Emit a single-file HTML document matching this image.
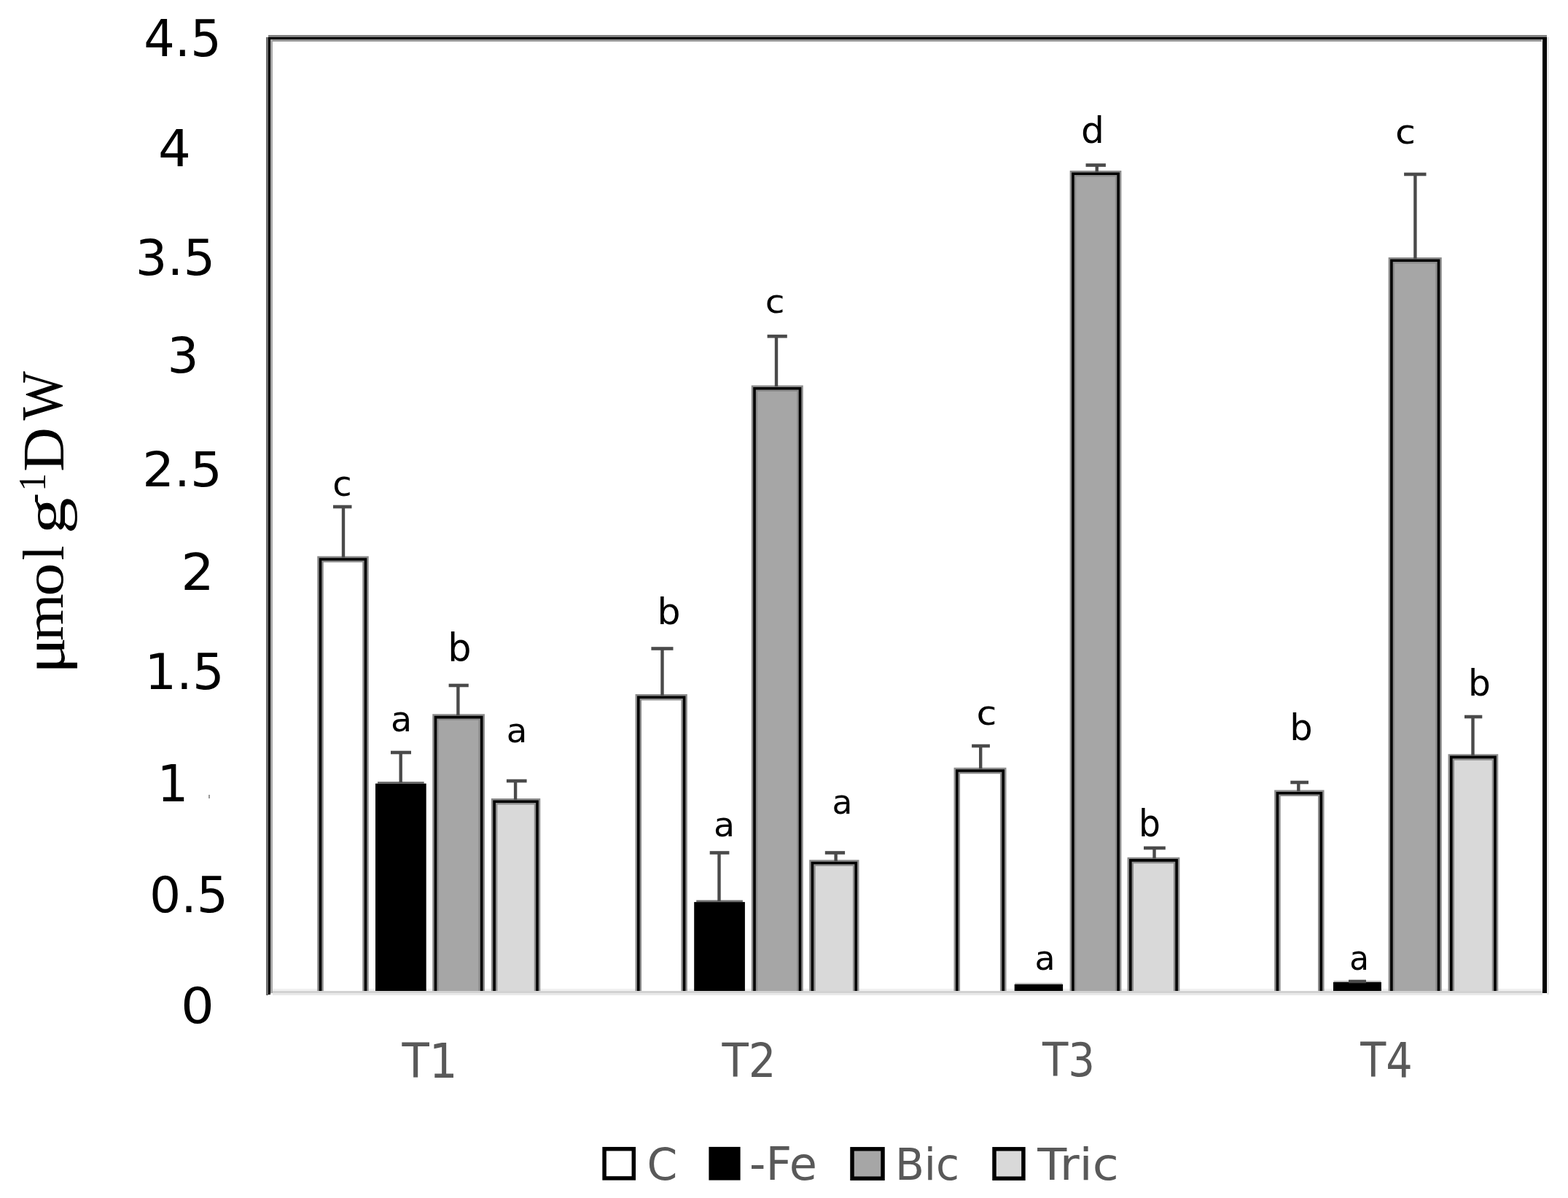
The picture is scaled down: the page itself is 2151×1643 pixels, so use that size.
<!DOCTYPE html><html><head><meta charset="utf-8"><title>Chart</title>
<style>html,body{margin:0;padding:0;background:#fff;}body{width:2151px;height:1643px;overflow:hidden;}svg{display:block;}.s{font-family:"DejaVu Sans","Liberation Sans",sans-serif;}.r{font-family:"Liberation Serif","Times New Roman",serif;}</style></head><body>
<svg width="2151" height="1643" viewBox="0 0 2151 1643">
<rect x="0" y="0" width="2151" height="1643" fill="#fff"/>
<g><rect x="374" y="1356" width="1742" height="3" fill="#f0f0f0"/><rect x="374" y="1359" width="1742" height="3" fill="#d2d2d2"/><rect x="374" y="1362" width="1742" height="3" fill="#e9e9e9"/><rect x="368" y="48" width="1754" height="3" fill="#828282"/><rect x="374" y="54" width="1741" height="3" fill="#969696"/><rect x="365" y="51" width="3" height="1314" fill="#6e6e6e"/><rect x="371" y="54" width="3" height="1308" fill="#a8a8a8"/><rect x="2122" y="51" width="3" height="1313" fill="#e6e6e6"/><rect x="368" y="51" width="3" height="1313" fill="#000"/><rect x="368" y="51" width="1754" height="3" fill="#000"/><rect x="2116" y="51" width="6" height="1311" fill="#000"/><rect x="439.5" y="767.0" width="62.0" height="593.0" fill="#ffffff"/><path d="M439.5 1360.0V767.0H501.5V1360.0" fill="none" stroke="#8c8c8c" stroke-width="8.5" stroke-linejoin="miter"/><path d="M439.5 1360.0V767.0H501.5V1360.0" fill="none" stroke="#000" stroke-width="3.6" stroke-linejoin="miter"/><line x1="471.0" y1="695.0" x2="471.0" y2="764.5" stroke="#4a4a4a" stroke-width="4.4"/><line x1="457.0" y1="695.0" x2="482.5" y2="695.0" stroke="#4a4a4a" stroke-width="4.6"/><rect x="518.0" y="1072.0" width="63.7" height="2.6" fill="#6e6e6e"/><rect x="515.0" y="1074.6" width="69.7" height="285.4" fill="#000"/><line x1="549.7" y1="1032.0" x2="549.7" y2="1073.5" stroke="#4a4a4a" stroke-width="4.4"/><line x1="536.0" y1="1032.0" x2="564.0" y2="1032.0" stroke="#4a4a4a" stroke-width="4.6"/><rect x="597.5" y="983.6" width="63.2" height="376.4" fill="#a6a6a6"/><path d="M597.5 1360.0V983.6H660.7V1360.0" fill="none" stroke="#8c8c8c" stroke-width="8.5" stroke-linejoin="miter"/><path d="M597.5 1360.0V983.6H660.7V1360.0" fill="none" stroke="#000" stroke-width="3.6" stroke-linejoin="miter"/><line x1="628.4" y1="940.0" x2="628.4" y2="981.1" stroke="#4a4a4a" stroke-width="4.4"/><line x1="615.6" y1="940.0" x2="642.8" y2="940.0" stroke="#4a4a4a" stroke-width="4.6"/><rect x="678.1" y="1099.3" width="58.9" height="260.7" fill="#d9d9d9"/><path d="M678.1 1360.0V1099.3H737.0V1360.0" fill="none" stroke="#8c8c8c" stroke-width="8.5" stroke-linejoin="miter"/><path d="M678.1 1360.0V1099.3H737.0V1360.0" fill="none" stroke="#000" stroke-width="3.6" stroke-linejoin="miter"/><line x1="707.1" y1="1071.0" x2="707.1" y2="1096.8" stroke="#4a4a4a" stroke-width="4.4"/><line x1="694.9" y1="1071.0" x2="722.6" y2="1071.0" stroke="#4a4a4a" stroke-width="4.6"/><rect x="875.8" y="956.3" width="62.8" height="403.7" fill="#ffffff"/><path d="M875.8 1360.0V956.3H938.6V1360.0" fill="none" stroke="#8c8c8c" stroke-width="8.5" stroke-linejoin="miter"/><path d="M875.8 1360.0V956.3H938.6V1360.0" fill="none" stroke="#000" stroke-width="3.6" stroke-linejoin="miter"/><line x1="908.5" y1="889.5" x2="908.5" y2="953.8" stroke="#4a4a4a" stroke-width="4.4"/><line x1="893.4" y1="889.5" x2="923.5" y2="889.5" stroke="#4a4a4a" stroke-width="4.6"/><rect x="955.2" y="1234.5" width="63.7" height="2.6" fill="#6e6e6e"/><rect x="952.2" y="1237.1" width="69.7" height="122.9" fill="#000"/><line x1="986.5" y1="1169.5" x2="986.5" y2="1236.0" stroke="#4a4a4a" stroke-width="4.4"/><line x1="973.7" y1="1169.5" x2="1000.4" y2="1169.5" stroke="#4a4a4a" stroke-width="4.6"/><rect x="1035.0" y="532.7" width="62.5" height="827.3" fill="#a6a6a6"/><path d="M1035.0 1360.0V532.7H1097.5V1360.0" fill="none" stroke="#8c8c8c" stroke-width="8.5" stroke-linejoin="miter"/><path d="M1035.0 1360.0V532.7H1097.5V1360.0" fill="none" stroke="#000" stroke-width="3.6" stroke-linejoin="miter"/><line x1="1065.0" y1="461.2" x2="1065.0" y2="530.2" stroke="#4a4a4a" stroke-width="4.4"/><line x1="1052.6" y1="461.2" x2="1079.8" y2="461.2" stroke="#4a4a4a" stroke-width="4.6"/><rect x="1114.4" y="1183.5" width="59.8" height="176.5" fill="#d9d9d9"/><path d="M1114.4 1360.0V1183.5H1174.2V1360.0" fill="none" stroke="#8c8c8c" stroke-width="8.5" stroke-linejoin="miter"/><path d="M1114.4 1360.0V1183.5H1174.2V1360.0" fill="none" stroke="#000" stroke-width="3.6" stroke-linejoin="miter"/><line x1="1146.6" y1="1169.5" x2="1146.6" y2="1181.0" stroke="#4a4a4a" stroke-width="4.4"/><line x1="1131.8" y1="1169.5" x2="1159.1" y2="1169.5" stroke="#4a4a4a" stroke-width="4.6"/><rect x="1312.8" y="1057.0" width="63.4" height="303.0" fill="#ffffff"/><path d="M1312.8 1360.0V1057.0H1376.2V1360.0" fill="none" stroke="#8c8c8c" stroke-width="8.5" stroke-linejoin="miter"/><path d="M1312.8 1360.0V1057.0H1376.2V1360.0" fill="none" stroke="#000" stroke-width="3.6" stroke-linejoin="miter"/><line x1="1345.2" y1="1023.0" x2="1345.2" y2="1054.5" stroke="#4a4a4a" stroke-width="4.4"/><line x1="1333.1" y1="1023.0" x2="1357.9" y2="1023.0" stroke="#4a4a4a" stroke-width="4.6"/><rect x="1391.7" y="1350.0" width="66.4" height="10.0" fill="#000"/><rect x="1392.2" y="1348.0" width="65.4" height="2" fill="#bbb"/><rect x="1471.9" y="238.2" width="62.2" height="1121.8" fill="#a6a6a6"/><path d="M1471.9 1360.0V238.2H1534.1V1360.0" fill="none" stroke="#8c8c8c" stroke-width="8.5" stroke-linejoin="miter"/><path d="M1471.9 1360.0V238.2H1534.1V1360.0" fill="none" stroke="#000" stroke-width="3.6" stroke-linejoin="miter"/><line x1="1504.7" y1="226.5" x2="1504.7" y2="235.7" stroke="#4a4a4a" stroke-width="4.4"/><line x1="1489.5" y1="226.5" x2="1516.9" y2="226.5" stroke="#4a4a4a" stroke-width="4.6"/><rect x="1550.8" y="1179.9" width="63.3" height="180.1" fill="#d9d9d9"/><path d="M1550.8 1360.0V1179.9H1614.1V1360.0" fill="none" stroke="#8c8c8c" stroke-width="8.5" stroke-linejoin="miter"/><path d="M1550.8 1360.0V1179.9H1614.1V1360.0" fill="none" stroke="#000" stroke-width="3.6" stroke-linejoin="miter"/><line x1="1583.5" y1="1163.0" x2="1583.5" y2="1177.4" stroke="#4a4a4a" stroke-width="4.4"/><line x1="1569.0" y1="1163.0" x2="1598.8" y2="1163.0" stroke="#4a4a4a" stroke-width="4.6"/><rect x="1752.4" y="1087.7" width="59.9" height="272.3" fill="#ffffff"/><path d="M1752.4 1360.0V1087.7H1812.3V1360.0" fill="none" stroke="#8c8c8c" stroke-width="8.5" stroke-linejoin="miter"/><path d="M1752.4 1360.0V1087.7H1812.3V1360.0" fill="none" stroke="#000" stroke-width="3.6" stroke-linejoin="miter"/><line x1="1781.3" y1="1073.0" x2="1781.3" y2="1085.2" stroke="#4a4a4a" stroke-width="4.4"/><line x1="1770.3" y1="1073.0" x2="1795.0" y2="1073.0" stroke="#4a4a4a" stroke-width="4.6"/><rect x="1829.0" y="1347.0" width="65.9" height="13.0" fill="#000"/><rect x="1829.5" y="1345.0" width="64.9" height="2" fill="#bbb"/><line x1="1862.0" y1="1346.0" x2="1862.0" y2="1346.5" stroke="#4a4a4a" stroke-width="4.4"/><line x1="1850.0" y1="1346.0" x2="1874.0" y2="1346.0" stroke="#4a4a4a" stroke-width="4.6"/><rect x="1908.9" y="357.3" width="64.6" height="1002.7" fill="#a6a6a6"/><path d="M1908.9 1360.0V357.3H1973.5V1360.0" fill="none" stroke="#8c8c8c" stroke-width="8.5" stroke-linejoin="miter"/><path d="M1908.9 1360.0V357.3H1973.5V1360.0" fill="none" stroke="#000" stroke-width="3.6" stroke-linejoin="miter"/><line x1="1941.4" y1="239.0" x2="1941.4" y2="354.8" stroke="#4a4a4a" stroke-width="4.4"/><line x1="1926.1" y1="239.0" x2="1956.5" y2="239.0" stroke="#4a4a4a" stroke-width="4.6"/><rect x="1990.8" y="1038.4" width="60.2" height="321.6" fill="#d9d9d9"/><path d="M1990.8 1360.0V1038.4H2051.0V1360.0" fill="none" stroke="#8c8c8c" stroke-width="8.5" stroke-linejoin="miter"/><path d="M1990.8 1360.0V1038.4H2051.0V1360.0" fill="none" stroke="#000" stroke-width="3.6" stroke-linejoin="miter"/><line x1="2020.5" y1="983.0" x2="2020.5" y2="1035.9" stroke="#4a4a4a" stroke-width="4.4"/><line x1="2009.0" y1="983.0" x2="2033.3" y2="983.0" stroke="#4a4a4a" stroke-width="4.6"/><rect x="374" y="1359" width="1742" height="3" fill="#d2d2d2"/><rect x="374" y="1362" width="1742" height="3" fill="#e9e9e9"/><rect x="829.1" y="1575.7" width="40.2" height="40.2" fill="#ffffff" stroke="#000" stroke-width="5.5"/><rect x="972.4" y="1572.9" width="43.2" height="45.7" fill="#000"/><rect x="1169.0" y="1575.8" width="42.0" height="40.4" fill="#a6a6a6" stroke="#000" stroke-width="5.5"/><rect x="1364.0" y="1575.8" width="39.9" height="40.4" fill="#d9d9d9" stroke="#000" stroke-width="5.5"/></g>
<text class="s" transform="translate(469.50 680.00) scale(0.9936 1)" font-size="48.43" fill="#000" text-anchor="middle">c</text><text class="s" transform="translate(550.50 1003.00) scale(0.9830 1)" font-size="48.49" fill="#000" text-anchor="middle">a</text><text class="s" transform="translate(630.50 907.00) scale(0.9692 1)" font-size="52.46" fill="#000" text-anchor="middle">b</text><text class="s" transform="translate(709.00 1018.00) scale(1.0031 1)" font-size="46.51" fill="#000" text-anchor="middle">a</text><text class="s" transform="translate(917.50 856.00) scale(1.0078 1)" font-size="50.14" fill="#000" text-anchor="middle">b</text><text class="s" transform="translate(993.50 1147.00) scale(1.0221 1)" font-size="46.48" fill="#000" text-anchor="middle">a</text><text class="s" transform="translate(1063.00 429.00) scale(1.0901 1)" font-size="44.63" fill="#000" text-anchor="middle">c</text><text class="s" transform="translate(1155.50 1116.00) scale(0.9935 1)" font-size="45.80" fill="#000" text-anchor="middle">a</text><text class="s" transform="translate(1353.50 994.00) scale(1.1137 1)" font-size="45.45" fill="#000" text-anchor="middle">c</text><text class="s" transform="translate(1433.50 1330.00) scale(0.9827 1)" font-size="46.64" fill="#000" text-anchor="middle">a</text><text class="s" transform="translate(1499.00 196.00) scale(1.0023 1)" font-size="50.14" fill="#000" text-anchor="middle">d</text><text class="s" transform="translate(1577.00 1147.00) scale(0.9214 1)" font-size="51.17" fill="#000" text-anchor="middle">b</text><text class="s" transform="translate(1785.00 1015.00) scale(0.9805 1)" font-size="50.47" fill="#000" text-anchor="middle">b</text><text class="s" transform="translate(1864.50 1330.00) scale(0.9343 1)" font-size="46.71" fill="#000" text-anchor="middle">a</text><text class="s" transform="translate(1928.00 197.00) scale(1.0954 1)" font-size="46.48" fill="#000" text-anchor="middle">c</text><text class="s" transform="translate(2029.50 954.00) scale(0.9672 1)" font-size="50.25" fill="#000" text-anchor="middle">b</text><text class="s" transform="translate(250.50 77.00) scale(0.9701 1)" font-size="68.97" fill="#000" text-anchor="middle">4.5</text><text class="s" transform="translate(239.50 228.00) scale(1.0067 1)" font-size="70.16" fill="#000" text-anchor="middle">4</text><text class="s" transform="translate(240.50 377.00) scale(1.0143 1)" font-size="67.77" fill="#000" text-anchor="middle">3.5</text><text class="s" transform="translate(251.00 511.00) scale(1.0026 1)" font-size="67.70" fill="#000" text-anchor="middle">3</text><text class="s" transform="translate(250.00 667.00) scale(1.0348 1)" font-size="66.57" fill="#000" text-anchor="middle">2.5</text><text class="s" transform="translate(271.00 809.00) scale(1.0405 1)" font-size="68.94" fill="#000" text-anchor="middle">2</text><text class="s" transform="translate(253.00 945.00) scale(1.0054 1)" font-size="68.21" fill="#000" text-anchor="middle">1.5</text><text class="s" transform="translate(237.00 1099.00) scale(0.9619 1)" font-size="70.13" fill="#000" text-anchor="middle">1</text><text class="s" transform="translate(259.00 1251.00) scale(1.0186 1)" font-size="66.71" fill="#000" text-anchor="middle">0.5</text><text class="s" transform="translate(271.00 1403.00) scale(1.0580 1)" font-size="68.21" fill="#000" text-anchor="middle">0</text><text class="s" transform="translate(589.50 1478.00) scale(0.9164 1)" font-size="66.68" fill="#595959" text-anchor="middle">T1</text><text class="s" transform="translate(1027.50 1477.00) scale(0.9330 1)" font-size="63.73" fill="#595959" text-anchor="middle">T2</text><text class="s" transform="translate(1466.00 1476.00) scale(0.9096 1)" font-size="63.62" fill="#595959" text-anchor="middle">T3</text><text class="s" transform="translate(1902.00 1477.00) scale(0.8828 1)" font-size="64.95" fill="#595959" text-anchor="middle">T4</text><text class="s" transform="translate(908.50 1618.00) scale(0.9981 1)" font-size="60.03" fill="#595959" text-anchor="middle">C</text><text class="s" transform="translate(1074.50 1618.00) scale(1.0055 1)" font-size="61.72" fill="#595959" text-anchor="middle">-Fe</text><text class="s" transform="translate(1272.00 1618.00) scale(0.9635 1)" font-size="60.50" fill="#595959" text-anchor="middle">Bic</text><text class="s" transform="translate(1479.00 1618.00) scale(1.0807 1)" font-size="60.63" fill="#595959" text-anchor="middle">Tric</text><rect x="286" y="1090" width="2" height="5" fill="#9a9a9a"/><text id="tg0" class="r" transform="translate(88.10 924.00) rotate(-90) scale(1.1413 1)" font-size="82.02" fill="#000">&#956;</text><text id="tg1" class="r" transform="translate(85.60 879.00) rotate(-90) scale(1.0881 1)" font-size="76.50" fill="#000">m</text><text id="tg2" class="r" transform="translate(85.60 817.80) rotate(-90) scale(1.1967 1)" font-size="76.64" fill="#000">o</text><text id="tg3" class="r" transform="translate(86.60 768.60) rotate(-90) scale(0.9028 1)" font-size="80.19" fill="#000">l</text><text id="tg4" class="r" transform="translate(88.60 732.20) rotate(-90) scale(1.2818 1)" font-size="77.90" fill="#000">g</text><text id="tg5" class="r" transform="translate(62.80 689.80) rotate(-90) scale(0.7144 1)" font-size="53.00" fill="#000">-</text><text id="tg6" class="r" transform="translate(61.80 673.80) rotate(-90) scale(0.9305 1)" font-size="53.00" fill="#000">1</text><text id="tg7" class="r" transform="translate(86.60 647.00) rotate(-90) scale(1.0384 1)" font-size="81.32" fill="#000">D</text><text id="tg8" class="r" transform="translate(84.60 576.40) rotate(-90) scale(0.8912 1)" font-size="80.04" fill="#000">W</text>
</svg></body></html>
